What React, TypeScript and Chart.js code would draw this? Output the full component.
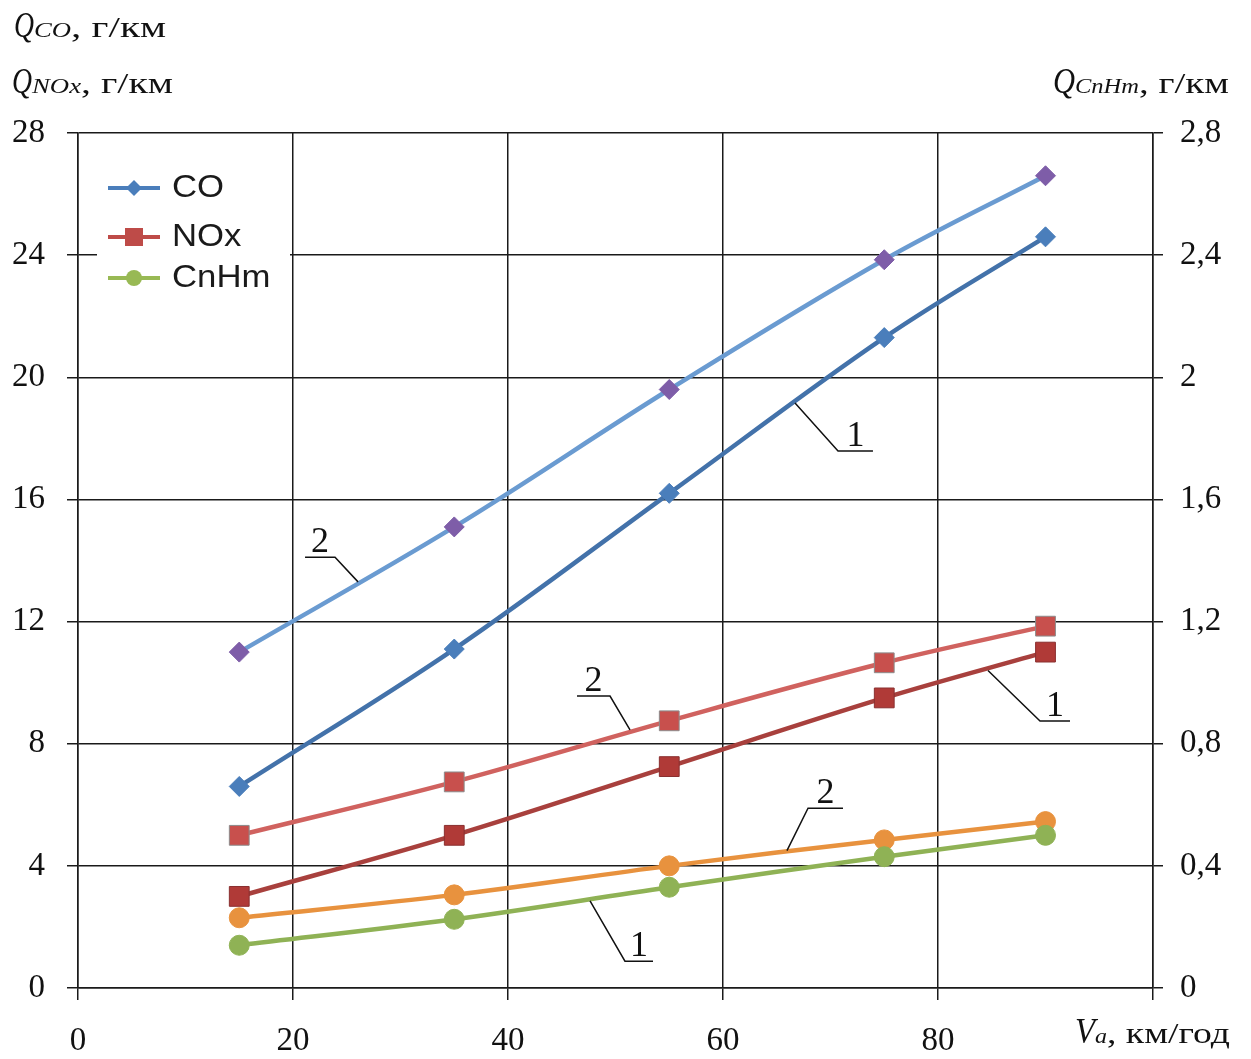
import { useEffect, useRef } from 'react';
import { Chart, registerables } from 'chart.js';

Chart.register(...registerables);

// ---- data ----
const speeds = [15, 35, 55, 75, 90];
const co1 = [6.6, 11.1, 16.2, 21.3, 24.6];
const co2 = [11.0, 15.1, 19.6, 23.85, 26.6];
const nox1 = [3.0, 5.0, 7.25, 9.5, 11.0];
const nox2 = [5.0, 6.75, 8.75, 10.65, 11.85];
const cnhm1 = [0.14, 0.225, 0.33, 0.43, 0.5];
const cnhm2 = [0.23, 0.305, 0.4, 0.485, 0.545];

const legendLabels = ['CO', 'NOx', 'CnHm'];

// curve labels "1" / "2": tip on curve, elbow, end of underline (data units of left axis)
const curveLabels = [
  { text: '2', tip: [26.05, 13.3], elbow: [23.91, 14.11], end: [21.12, 14.11] },
  { text: '1', tip: [66.7, 19.16], elbow: [70.7, 17.59], end: [73.95, 17.59] },
  { text: '1', tip: [84.65, 10.4], elbow: [89.49, 8.74], end: [92.28, 8.74] },
  { text: '2', tip: [51.35, 8.45], elbow: [49.49, 9.56], end: [46.42, 9.56] },
  { text: '2', tip: [65.95, 4.5], elbow: [67.91, 5.89], end: [71.16, 5.89] },
  { text: '1', tip: [47.63, 2.85], elbow: [50.88, 0.88], end: [53.49, 0.88] },
];

const SERIF = '"Liberation Serif", "Times New Roman", serif';
const SANS = '"Liberation Sans", Arial, sans-serif';

type Part = { t: string; font: string; w: number };

function drawRun(ctx: CanvasRenderingContext2D, parts: Part[], x: number, baseline: number) {
  let cx = x;
  ctx.textAlign = 'left';
  ctx.textBaseline = 'alphabetic';
  ctx.fillStyle = '#111';
  for (const p of parts) {
    ctx.font = p.font;
    const m = ctx.measureText(p.t).width;
    const sx = p.w / m;
    ctx.save();
    ctx.translate(cx, baseline);
    ctx.scale(sx, 1);
    ctx.fillText(p.t, 0, 0);
    ctx.restore();
    cx += p.w;
  }
}

const QF = `italic 35px ${SERIF}`;
const SUBF = `italic 20px ${SERIF}`;
const MAINF = `30px ${SERIF}`;

const titlesPlugin = {
  id: 'titles',
  afterDraw(chart: any) {
    const ctx = chart.ctx as CanvasRenderingContext2D;
    ctx.save();
    drawRun(ctx, [
      { t: 'Q', font: QF, w: 20 },
      { t: 'CO', font: SUBF, w: 37 },
      { t: ', г/км', font: MAINF, w: 95 },
    ], 14, 37);
    drawRun(ctx, [
      { t: 'Q', font: QF, w: 20 },
      { t: 'NOx', font: SUBF, w: 49 },
      { t: ', г/км', font: MAINF, w: 92 },
    ], 12, 93);
    drawRun(ctx, [
      { t: 'Q', font: QF, w: 22 },
      { t: 'CnHm', font: SUBF, w: 64 },
      { t: ', г/км', font: MAINF, w: 90 },
    ], 1053, 93);
    drawRun(ctx, [
      { t: 'V', font: QF, w: 20 },
      { t: 'a', font: SUBF, w: 12 },
      { t: ', км/год', font: MAINF, w: 123 },
    ], 1075, 1043);
    ctx.restore();
  },
};

const legendColors = ['#4A7EBB', '#BE4B48', '#98B954'];

const legendPlugin = {
  id: 'customLegend',
  afterDraw(chart: any) {
    const ctx = chart.ctx as CanvasRenderingContext2D;
    const a = chart.chartArea;
    const left = a.left + 19;
    const top = a.top + 32;
    ctx.save();
    ctx.fillStyle = '#ffffff';
    ctx.fillRect(left, top, 193, 135);
    const rows = [55, 104, 145];
    legendLabels.forEach((lab, i) => {
      const y = a.top + rows[i];
      const c = legendColors[i];
      ctx.strokeStyle = c;
      ctx.lineWidth = 4;
      ctx.beginPath();
      ctx.moveTo(left + 11, y);
      ctx.lineTo(left + 63, y);
      ctx.stroke();
      const mx = left + 37;
      ctx.fillStyle = c;
      ctx.beginPath();
      if (i === 0) {
        ctx.moveTo(mx, y - 8);
        ctx.lineTo(mx + 8, y);
        ctx.lineTo(mx, y + 8);
        ctx.lineTo(mx - 8, y);
        ctx.closePath();
      } else if (i === 1) {
        ctx.rect(mx - 9, y - 9, 18, 18);
      } else {
        ctx.arc(mx, y, 8, 0, Math.PI * 2);
      }
      ctx.fill();
      ctx.fillStyle = '#1a1a1a';
      ctx.font = `31px ${SANS}`;
      ctx.textAlign = 'left';
      ctx.textBaseline = 'middle';
      ctx.save();
      ctx.translate(left + 75, y);
      ctx.scale(1.12, 1);
      ctx.fillText(lab, 0, 0);
      ctx.restore();
    });
    ctx.restore();
  },
};

const curveLabelPlugin = {
  id: 'curveLabels',
  afterDatasetsDraw(chart: any) {
    const ctx = chart.ctx as CanvasRenderingContext2D;
    const xs = chart.scales.x;
    const ys = chart.scales.y;
    const P = (p: number[]) => [xs.getPixelForValue(p[0]), ys.getPixelForValue(p[1])];
    ctx.save();
    for (const c of curveLabels) {
      const t = P(c.tip);
      const e = P(c.elbow);
      const n = P(c.end);
      ctx.strokeStyle = '#111';
      ctx.lineWidth = 1.5;
      ctx.beginPath();
      ctx.moveTo(t[0], t[1]);
      ctx.lineTo(e[0], e[1]);
      ctx.lineTo(n[0], n[1]);
      ctx.stroke();
      ctx.fillStyle = '#111';
      ctx.font = `36px ${SERIF}`;
      ctx.textAlign = 'center';
      ctx.textBaseline = 'alphabetic';
      ctx.fillText(c.text, (e[0] + n[0]) / 2, e[1] - 5);
    }
    ctx.restore();
  },
};

function series(label: string, values: number[], axis: string, line: string, point: string, style: string, radius: number, pointBorder?: string) {
  return {
    label,
    data: speeds.map((x, i) => ({ x, y: values[i] })),
    yAxisID: axis,
    borderColor: line,
    backgroundColor: point,
    borderWidth: 4.5,
    pointBackgroundColor: point,
    pointBorderColor: pointBorder || point,
    pointBorderWidth: 1,
    pointStyle: style,
    pointRadius: radius,
    tension: 0.35,
    fill: false,
  };
}

export default function App() {
  const ref = useRef<HTMLCanvasElement>(null);
  useEffect(() => {
    document.body.style.margin = '0';
    const canvas = ref.current!;
    const tickFont = { family: SERIF, size: 33 };
    const chart = new Chart(canvas, {
      type: 'line',
      data: {
        datasets: [
          series('CnHm 1', cnhm1, 'y2', '#8FB255', '#8FB255', 'circle', 10),
          series('CnHm 2', cnhm2, 'y2', '#E8923E', '#E8923E', 'circle', 10),
          series('NOx 1', nox1, 'y', '#A8403D', '#B03A37', 'rect', 14, '#8a3030'),
          series('NOx 2', nox2, 'y', '#D0625F', '#C8504D', 'rect', 14, '#8c8c8c'),
          series('CO 1', co1, 'y', '#4372AA', '#4A7EBB', 'rectRot', 10),
          series('CO 2', co2, 'y', '#6A9BD1', '#7E5DA8', 'rectRot', 10),
        ] as any,
      },
      options: {
        responsive: false,
        animation: false,
        layout: { padding: { top: 133, left: 0, right: 0, bottom: 0 } },
        plugins: { legend: { display: false }, tooltip: { enabled: false } },
        scales: {
          x: {
            type: 'linear',
            min: 0,
            max: 100,
            ticks: {
              stepSize: 20,
              font: tickFont,
              color: '#111',
              padding: 22,
              maxRotation: 0,
              callback: (v: any) => (v === 100 ? '' : String(v)),
            },
            grid: { color: '#1a1a1a', lineWidth: 1.5, tickLength: 12 },
            border: { color: '#1a1a1a', width: 1.5 },
            afterFit: (axis: any) => { axis.height = 71; },
          },
          y: {
            position: 'left',
            min: 0,
            max: 28,
            ticks: { stepSize: 4, font: tickFont, color: '#111', padding: 22 },
            grid: { color: '#1a1a1a', lineWidth: 1.5, tickLength: 11 },
            border: { color: '#1a1a1a', width: 1.5 },
            afterFit: (axis: any) => { axis.width = 78; },
          },
          y2: {
            position: 'right',
            min: 0,
            max: 2.8,
            ticks: {
              stepSize: 0.4,
              font: tickFont,
              color: '#111',
              padding: 17,
              callback: (v: any) => String(Math.round(Number(v) * 10) / 10).replace('.', ','),
            },
            grid: { drawOnChartArea: false, color: '#1a1a1a', lineWidth: 1.5, tickLength: 10 },
            border: { color: '#1a1a1a', width: 1.5 },
            afterFit: (axis: any) => { axis.width = 98; },
          },
        },
      } as any,
      plugins: [curveLabelPlugin, legendPlugin, titlesPlugin],
    });
    return () => chart.destroy();
  }, []);
  return <canvas ref={ref} width={1251} height={1059} style={{ display: 'block', width: 1251, height: 1059 }} />;
}
